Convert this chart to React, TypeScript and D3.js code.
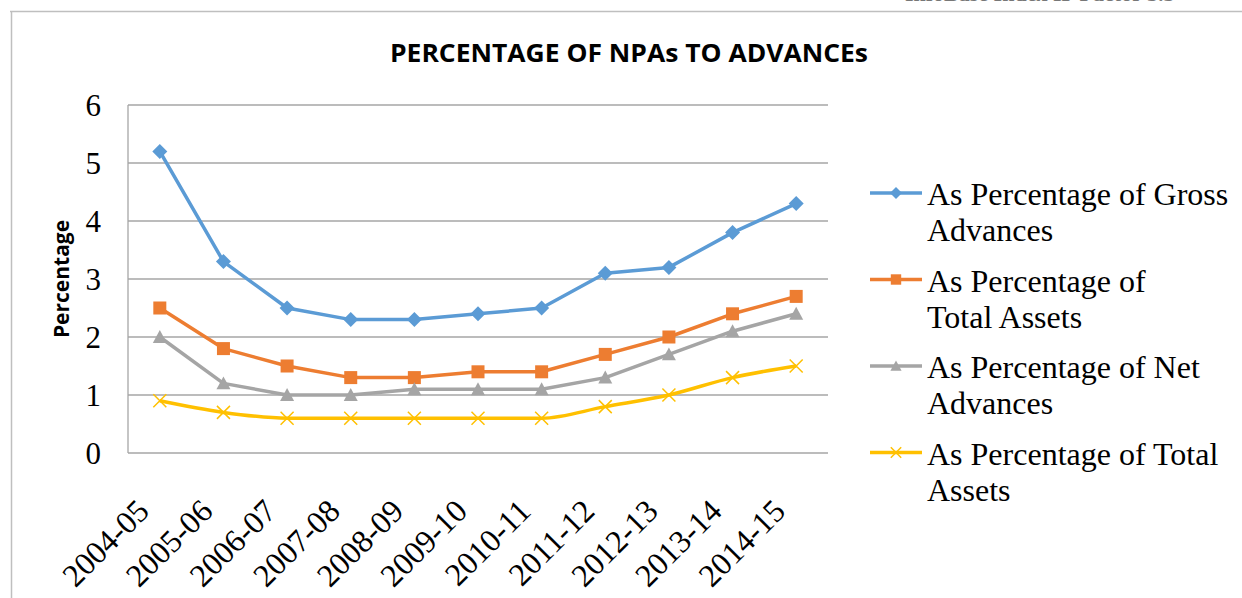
import React from 'react';
import * as d3 from 'd3';

const years = [
  '2004-05', '2005-06', '2006-07', '2007-08', '2008-09', '2009-10',
  '2010-11', '2011-12', '2012-13', '2013-14', '2014-15',
];
const grossAdvances = [5.2, 3.3, 2.5, 2.3, 2.3, 2.4, 2.5, 3.1, 3.2, 3.8, 4.3];
const totalAssetsA = [2.5, 1.8, 1.5, 1.3, 1.3, 1.4, 1.4, 1.7, 2.0, 2.4, 2.7];
const netAdvances = [2.0, 1.2, 1.0, 1.0, 1.1, 1.1, 1.1, 1.3, 1.7, 2.1, 2.4];
const totalAssetsB = [0.9, 0.7, 0.6, 0.6, 0.6, 0.6, 0.6, 0.8, 1.0, 1.3, 1.5];
const yTicks = [0, 1, 2, 3, 4, 5, 6];

const seriesList = [
  { lines: ['As Percentage of Gross', 'Advances'], values: grossAdvances, color: '#5B9BD5', marker: 'diamond', smooth: false },
  { lines: ['As Percentage of', 'Total Assets'], values: totalAssetsA, color: '#ED7D31', marker: 'square', smooth: false },
  { lines: ['As Percentage of Net', 'Advances'], values: netAdvances, color: '#A5A5A5', marker: 'triangle', smooth: false },
  { lines: ['As Percentage of Total', 'Assets'], values: totalAssetsB, color: '#FFC000', marker: 'x', smooth: true },
];

const W = 1242;
const H = 598;
const plot = { left: 128, right: 828, top: 105, bottom: 453 };
const serif = '"Liberation Serif", "Times New Roman", serif';
const sans = '"Open Sans", "Liberation Sans", sans-serif';

function Marker({ type, x, y, color, s = 1 }: { type: string; x: number; y: number; color: string; s?: number }) {
  if (type === 'diamond') {
    const r = 7.5 * s;
    return <path d={`M${x},${y - r}L${x + r},${y}L${x},${y + r}L${x - r},${y}Z`} fill={color} />;
  }
  if (type === 'square') {
    const r = 6.5 * s;
    return <rect x={x - r} y={y - r} width={2 * r} height={2 * r} fill={color} />;
  }
  if (type === 'triangle') {
    const r = 7 * s;
    return <path d={`M${x},${y - r}L${x + r},${y + r * 0.85}L${x - r},${y + r * 0.85}Z`} fill={color} />;
  }
  const r = 6.5 * s;
  return (
    <path
      d={`M${x - r},${y - r}L${x + r},${y + r}M${x + r},${y - r}L${x - r},${y + r}`}
      stroke={color}
      strokeWidth={1.5}
      fill="none"
    />
  );
}

export default function App() {
  const x = d3.scalePoint<string>().domain(years).range([plot.left, plot.right]).padding(0.5);
  const y = d3.scaleLinear().domain([0, 6]).range([plot.bottom, plot.top]);

  return (
    <svg
      width={W}
      height={H}
      style={{ position: 'absolute', left: 0, top: 0, display: 'block', background: '#fff' }}
    >
      {/* cropped header text and page border */}
      <text x={905} y={1} fontFamily={serif} fontWeight="bold" fontSize={22} fill="#777">
        InfoBase Index IF Factor 3.5
      </text>
      <line x1={10} x2={W} y1={11.5} y2={11.5} stroke="#BFBFBF" strokeWidth={1.5} />
      <line x1={11.5} x2={11.5} y1={11} y2={H} stroke="#BFBFBF" strokeWidth={1.5} />

      <text
        x={629}
        y={62}
        textAnchor="middle"
        fontFamily={sans}
        fontWeight="bold"
        fontSize={25}
        textLength={478}
        lengthAdjust="spacingAndGlyphs"
        fill="#000"
      >
        PERCENTAGE OF NPAs TO ADVANCEs
      </text>

      {/* grid */}
      {yTicks.map((t) => (
        <g key={t}>
          <line x1={plot.left} x2={plot.right} y1={y(t)} y2={y(t)} stroke="#A6A6A6" strokeWidth={1.3} />
          <text x={101} y={y(t) + 11} textAnchor="end" fontFamily={serif} fontSize={31} fill="#000">
            {t}
          </text>
        </g>
      ))}
      <line x1={plot.left} x2={plot.left} y1={plot.top} y2={plot.bottom} stroke="#A6A6A6" strokeWidth={1.3} />

      <text
        transform={`translate(69, 279) rotate(-90)`}
        textAnchor="middle"
        fontFamily={sans}
        fontWeight="bold"
        fontSize={21}
        fill="#000"
      >
        Percentage
      </text>

      {years.map((yr) => (
        <text
          key={yr}
          transform={`translate(${(x(yr) as number) - 9}, 513) rotate(-45)`}
          textAnchor="end"
          fontFamily={serif}
          fontSize={32}
          fill="#000"
        >
          {yr}
        </text>
      ))}

      {seriesList.map((s, si) => {
        const line = d3
          .line<number>()
          .x((_, i) => x(years[i]) as number)
          .y((d) => y(d))
          .curve(s.smooth ? d3.curveMonotoneX : d3.curveLinear);
        return (
          <g key={si}>
            <path d={line(s.values) || ''} fill="none" stroke={s.color} strokeWidth={3.5} strokeLinejoin="round" />
            {s.values.map((v, i) => (
              <Marker key={i} type={s.marker} x={x(years[i]) as number} y={y(v)} color={s.color} />
            ))}
          </g>
        );
      })}

      {/* legend */}
      {seriesList.map((s, si) => {
        const ly = 193 + si * 86.5;
        return (
          <g key={si}>
            <line x1={870} x2={922} y1={ly} y2={ly} stroke={s.color} strokeWidth={3.5} />
            <Marker type={s.marker} x={896} y={ly} color={s.color} s={0.8} />
            {s.lines.map((t, li) => (
              <text key={li} x={927} y={ly + 12 + li * 36} fontFamily={serif} fontSize={32} fill="#000">
                {t}
              </text>
            ))}
          </g>
        );
      })}
    </svg>
  );
}
